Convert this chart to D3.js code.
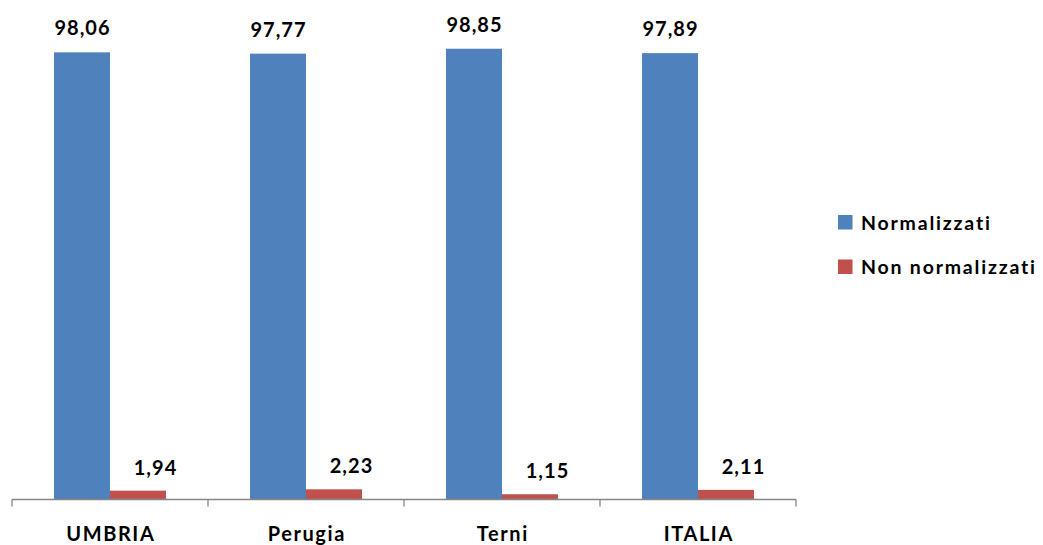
<!DOCTYPE html>
<html>
<head>
<meta charset="utf-8">
<script src="https://cdn.jsdelivr.net/npm/d3@7"></script>
<style>
  html, body { margin: 0; padding: 0; background: #fff; }
  svg { display: block; }
  text { font-family: Lato, "Open Sans", sans-serif; font-weight: bold; fill: #000; }
</style>
</head>
<body>
<svg id="chart" width="1043" height="545"></svg>
<script>
const categories = ["UMBRIA", "Perugia", "Terni", "ITALIA"];
const seriesNames = ["Normalizzati", "Non normalizzati"];
const normalizzati = [98.06, 97.77, 98.85, 97.89];
const nonNormalizzati = [1.94, 2.23, 1.15, 2.11];
const colors = ["#4F81BD", "#C0504D"];

const svg = d3.select("#chart");
const plot = { left: 12, right: 796, top: 43.5, bottom: 499.5 };

const x0 = d3.scaleBand()
  .domain(categories)
  .range([plot.left, plot.right])
  .paddingInner(0.4286)
  .paddingOuter(0.2143);

const x1 = d3.scaleBand()
  .domain(seriesNames)
  .range([0, x0.bandwidth()])
  .padding(0);

const y = d3.scaleLinear().domain([0, 100]).range([plot.bottom, plot.top]);

const rows = categories.map((c, i) => ({
  cat: c,
  values: [
    { name: seriesNames[0], v: normalizzati[i] },
    { name: seriesNames[1], v: nonNormalizzati[i] }
  ]
}));

const groups = svg.append("g").selectAll("g")
  .data(rows).join("g")
  .attr("transform", d => `translate(${x0(d.cat)},0)`);

groups.selectAll("rect")
  .data(d => d.values).join("rect")
  .attr("x", d => x1(d.name))
  .attr("width", x1.bandwidth())
  .attr("y", d => y(d.v))
  .attr("height", d => y(0) - y(d.v))
  .attr("fill", (d, i) => colors[i]);

const fmt = v => d3.format(".2f")(v).replace(".", ",");

// Value labels above each bar; the small bars get their label nudged right
groups.selectAll("text.val")
  .data(d => d.values).join("text")
  .attr("class", "val")
  .attr("x", (d, i) => x1(d.name) + x1.bandwidth() / 2 + (i === 1 ? 17.5 : 0.5))
  .attr("y", (d, i) => y(d.v) - (i === 1 ? 16 : 17))
  .attr("text-anchor", "middle")
  .style("font-size", "20px")
  .style("letter-spacing", "1px")
  .text(d => fmt(d.v));

// Category axis with ticks on the category boundaries
const axis = svg.append("g");
axis.append("line")
  .attr("x1", plot.left).attr("x2", plot.right)
  .attr("y1", plot.bottom).attr("y2", plot.bottom)
  .attr("stroke", "#868686").attr("stroke-width", 1.3);

const bounds = categories.map(c => x0(c) - x0.step() * x0.paddingOuter())
  .concat([plot.right]);
axis.selectAll("line.tick")
  .data(bounds).join("line")
  .attr("class", "tick")
  .attr("x1", d => d).attr("x2", d => d)
  .attr("y1", plot.bottom).attr("y2", plot.bottom + 7)
  .attr("stroke", "#868686").attr("stroke-width", 1.3);

axis.selectAll("text")
  .data(categories).join("text")
  .attr("x", d => x0(d) + x0.bandwidth() / 2 + 0.8)
  .attr("y", 540.5)
  .attr("text-anchor", "middle")
  .style("font-size", "20px")
  .style("letter-spacing", "1.6px")
  .text(d => d);

// Legend
const legend = svg.append("g").selectAll("g")
  .data(seriesNames).join("g")
  .attr("transform", (d, i) => `translate(838,${215 + i * 44.5})`);
legend.append("rect")
  .attr("width", 14.5).attr("height", 14.5)
  .attr("fill", (d, i) => colors[i]);
legend.append("text")
  .attr("x", 23).attr("y", 14.5)
  .style("font-size", "19.5px")
  .style("letter-spacing", "1.8px")
  .text(d => d);
</script>
</body>
</html>
